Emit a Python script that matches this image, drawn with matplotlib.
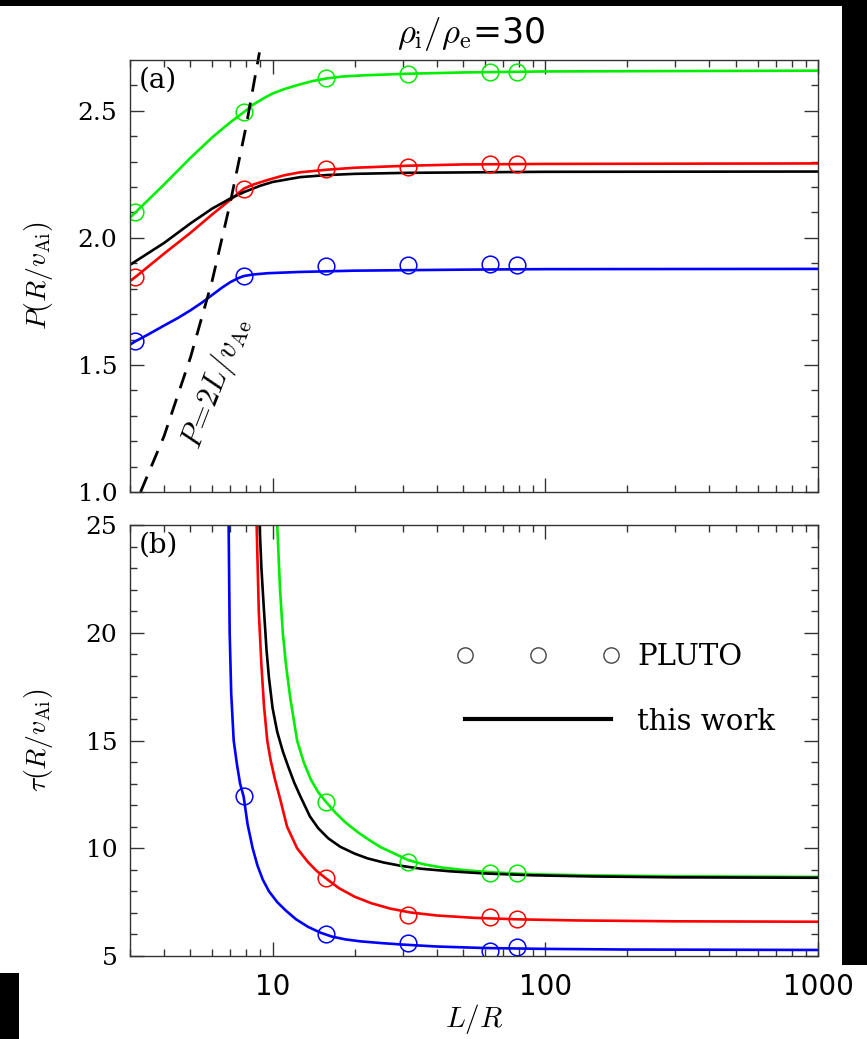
import matplotlib
matplotlib.use('Agg')
import matplotlib.pyplot as plt
from matplotlib.lines import Line2D
from matplotlib.patches import Rectangle

plt.rcParams['mathtext.fontset'] = 'cm'

# ---- data ----
L_sim = [3.14, 7.85, 15.7, 31.4, 62.8, 78.5]     # PLUTO runs (L/R)

# panel (a): period P(R/v_Ai)
P_green_sim = [2.10, 2.495, 2.63, 2.645, 2.652, 2.653]
P_red_sim = [1.846, 2.194, 2.27, 2.28, 2.29, 2.29]
P_blue_sim = [1.593, 1.85, 1.89, 1.894, 1.898, 1.894]

L_green_a = [3, 3.14, 4, 5, 6, 7, 7.85, 8.5, 9.3, 10, 11, 12.5, 14, 15.7, 18, 22, 31.4, 50, 100, 1000]
P_green = [2.08, 2.10, 2.21, 2.315, 2.395, 2.455, 2.495, 2.525, 2.55, 2.568, 2.585, 2.603, 2.617,
           2.627, 2.635, 2.64, 2.646, 2.651, 2.655, 2.658]
L_red_a = [3, 3.14, 4, 5, 6, 7, 7.85, 8.5, 9.6, 11, 12.6, 15.7, 20, 31.4, 50, 100, 1000]
P_red = [1.83, 1.846, 1.938, 2.02, 2.092, 2.15, 2.194, 2.21, 2.228, 2.246, 2.258, 2.268, 2.276,
         2.284, 2.289, 2.291, 2.293]
L_black_a = [3, 4, 5, 6, 7, 7.85, 9, 10, 12.6, 15.7, 20, 31.4, 100, 1000]
P_black = [1.894, 1.98, 2.057, 2.115, 2.155, 2.18, 2.205, 2.22, 2.239, 2.247, 2.252, 2.256, 2.26, 2.261]
L_blue_a = [3, 3.14, 3.5, 4, 4.5, 5, 5.5, 6, 6.5, 7, 7.5, 7.85, 8.5, 9.6, 12.6, 20, 50, 100, 1000]
P_blue = [1.58, 1.593, 1.62, 1.655, 1.685, 1.715, 1.745, 1.775, 1.803, 1.826, 1.842, 1.85, 1.856,
          1.861, 1.866, 1.871, 1.875, 1.877, 1.878]

# dashed line P = 2L/v_Ae
L_dash = [3.28, 4, 5, 6, 7, 8, 8.95]
P_dash = [1.0, 1.22, 1.53, 1.83, 2.14, 2.44, 2.73]

# panel (b): damping time tau(R/v_Ai)
L_sim_b = [7.85, 15.7, 31.4, 62.8, 78.5]
t_blue_sim = [12.42, 6.02, 5.6, 5.23, 5.42]
t_red_sim = [8.62, 6.9, 6.8, 6.72]       # from L = 15.7 on
t_green_sim = [12.15, 9.36, 8.85, 8.85]  # from L = 15.7 on

L_blue_b = [6.85, 6.9, 6.96, 7.05, 7.2, 7.4, 7.6, 7.83, 8.1, 8.45, 8.8, 9.2, 9.7, 10.4, 11.2, 12.2,
            13.5, 15.0, 16.5, 18.5, 21, 25, 30, 40, 60, 100, 200, 1000]
t_blue = [28, 25, 20, 17.2, 15, 13.9, 13.0, 12.4, 11.1, 10.0, 9.2, 8.55, 8.0, 7.5, 7.1, 6.7,
          6.35, 6.08, 5.9, 5.77, 5.68, 5.6, 5.53, 5.44, 5.37, 5.33, 5.3, 5.28]
L_red_b = [8.6, 8.74, 8.9, 9.1, 9.3, 9.56, 9.83, 10.2, 10.7, 11.3, 12.3, 13.5, 14.5, 15.7, 17.5,
           20, 23, 27, 32, 40, 55, 80, 130, 300, 1000]
t_red = [28, 25, 21, 18.5, 16.6, 15, 14.1, 13.2, 12.2, 11.0, 10.0, 9.35, 8.95, 8.6, 8.15,
         7.75, 7.45, 7.2, 7.02, 6.88, 6.77, 6.70, 6.65, 6.61, 6.59]
L_black_b = [8.8, 8.96, 9.1, 9.27, 9.5, 9.7, 10.0, 10.4, 10.9, 11.4, 12.0, 12.6, 13.7, 14.7, 16,
             17.7, 20, 22.3, 25.5, 29.4, 35, 44.8, 60, 90, 150, 300, 1000]
t_black = [28, 25, 23, 21.3, 19.2, 17.9, 16.5, 15.4, 14.5, 13.8, 13.05, 12.45, 11.48, 10.93, 10.46,
           10.07, 9.75, 9.53, 9.34, 9.19, 9.05, 8.93, 8.83, 8.745, 8.69, 8.65, 8.63]
L_green_b = [10.2, 10.4, 10.65, 10.9, 11.2, 11.6, 12.3, 13.0, 13.8, 14.7, 15.7, 17, 18.5, 20.5,
             22.5, 24.9, 28, 31.4, 36, 42, 50, 62.8, 80, 100, 150, 300, 1000]
t_green = [28, 25, 22, 20, 18.5, 17, 15.0, 14.0, 13.2, 12.6, 12.15, 11.65, 11.2, 10.75,
           10.4, 10.05, 9.75, 9.45, 9.25, 9.1, 8.99, 8.89, 8.82, 8.78, 8.74, 8.7, 8.67]

GREEN, RED, BLUE = '#00ee00', '#ff0000', '#0000ff'

W, H = 867, 1039
fig = plt.figure(figsize=(W / 100, H / 100), dpi=100, facecolor='black')
# white page (the scan sits slightly offset on a black background)
fig.add_artist(Rectangle((0, 66 / H), 842 / W, 967 / H, transform=fig.transFigure,
                         facecolor='white', edgecolor='none', zorder=-5))
fig.add_artist(Rectangle((19 / W, 0), 848 / W, 74 / H, transform=fig.transFigure,
                         facecolor='white', edgecolor='none', zorder=-5))

ax1 = fig.add_axes([130 / W, 1 - 492 / H, 688 / W, 432 / H])
ax2 = fig.add_axes([130 / W, 1 - 956 / H, 688 / W, 431 / H])

for ax in (ax1, ax2):
    ax.set_xscale('log')
    ax.set_xlim(3, 1000)
    ax.tick_params(which='both', direction='in', top=True, right=True,
                   width=1.0, color='#333333')
    ax.tick_params(which='major', length=10)
    ax.tick_params(which='minor', length=5)
    for s in ax.spines.values():
        s.set_linewidth(1.0)
        s.set_color('#333333')
    ax.set_xticks([10, 100, 1000], ['10', '100', '1000'], fontsize=20)
    ax.tick_params(axis='x', which='major', pad=12)
    ax.tick_params(axis='y', which='major', pad=9)

lw = 1.9
mk = dict(ls='none', marker='o', mfc='none', ms=12, mew=1.1)

# ---- panel (a) ----
ax1.plot(L_green_a, P_green, color=GREEN, lw=lw)
ax1.plot(L_red_a, P_red, color=RED, lw=lw)
ax1.plot(L_black_a, P_black, color='black', lw=lw)
ax1.plot(L_blue_a, P_blue, color=BLUE, lw=lw)
ax1.plot(L_sim, P_green_sim, mec=GREEN, **mk)
ax1.plot(L_sim, P_red_sim, mec=RED, **mk)
ax1.plot(L_sim, P_blue_sim, mec=BLUE, **mk)
ax1.plot(L_dash, P_dash, color='black', lw=2.0, dashes=(6, 4), clip_on=False)

ax1.set_ylim(1.0, 2.7)
ax1.set_yticks([1.0, 1.5, 2.0, 2.5], ['1.0', '1.5', '2.0', '2.5'],
               fontsize=18, fontfamily='DejaVu Serif')
ax1.set_yticks([1.1, 1.2, 1.3, 1.4, 1.6, 1.7, 1.8, 1.9, 2.1, 2.2, 2.3, 2.4, 2.6], minor=True)
ax1.tick_params(labelbottom=False)
ax1.set_ylabel(r'$P(R/v_{\mathrm{Ai}})$', fontsize=20)
ax1.yaxis.set_label_coords(-0.109, 0.5)
ax1.text(0.012, 0.985, '(a)', transform=ax1.transAxes, ha='left', va='top',
         fontsize=20, fontfamily='DejaVu Serif')
fig.text(216 / W, 1 - 383 / H, r'$P\!=\!2L/v_{\mathrm{Ae}}$', fontsize=22,
         rotation=69, ha='center', va='center', rotation_mode='anchor')

# title
fig.text(471 / W, 1 - 34 / H, r'$\rho_{\mathrm{i}}/\rho_{\mathrm{e}}$=30', fontsize=25,
         ha='center', va='center')

# ---- panel (b) ----
ax2.plot(L_green_b, t_green, color=GREEN, lw=lw)
ax2.plot(L_red_b, t_red, color=RED, lw=lw)
ax2.plot(L_black_b, t_black, color='black', lw=lw)
ax2.plot(L_blue_b, t_blue, color=BLUE, lw=lw)
ax2.plot(L_sim_b[1:], t_green_sim, mec=GREEN, **mk)
ax2.plot(L_sim_b[1:], t_red_sim, mec=RED, **mk)
ax2.plot(L_sim_b, t_blue_sim, mec=BLUE, **mk)

ax2.set_ylim(5, 25)
ax2.set_yticks([5, 10, 15, 20, 25], ['5', '10', '15', '20', '25'],
               fontsize=18, fontfamily='DejaVu Serif')
ax2.set_yticks([v for v in range(6, 25) if v % 5], minor=True)
ax2.set_ylabel(r'$\tau(R/v_{\mathrm{Ai}})$', fontsize=20)
ax2.yaxis.set_label_coords(-0.109, 0.5)
ax2.set_xlabel(r'$L/R$', fontsize=21, labelpad=1)
ax2.text(0.012, 0.985, '(b)', transform=ax2.transAxes, ha='left', va='top',
         fontsize=20, fontfamily='DejaVu Serif')

handles = [Line2D([], [], ls='none', marker='o', mfc='none', mec='#444444', ms=11, mew=1.0),
           Line2D([], [], color='black', lw=3)]
ax2.legend(handles, ['PLUTO', 'this work'], numpoints=3, frameon=False,
           loc='upper left', bbox_to_anchor=(0.474, 0.726), handlelength=5.6,
           handletextpad=0.6, labelspacing=1.25, borderpad=0, borderaxespad=0,
           prop={'family': 'DejaVu Serif', 'size': 21})

fig.savefig('out.png', dpi=100, facecolor=fig.get_facecolor())
